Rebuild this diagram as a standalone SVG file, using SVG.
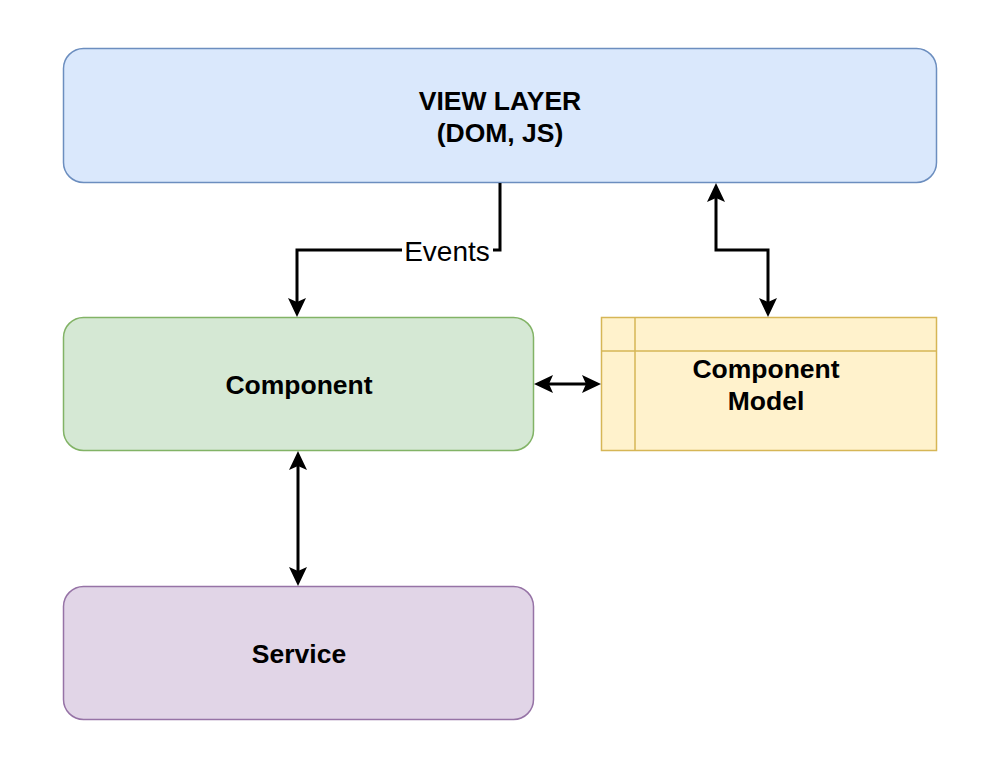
<svg xmlns="http://www.w3.org/2000/svg" width="1000" height="770" viewBox="0 0 1000 770">
<style>
.lbl{font-family:"Liberation Sans",Arial,sans-serif;font-size:26.5px;font-weight:bold;fill:#000;text-anchor:middle}
.evt{font-family:"Liberation Sans",Arial,sans-serif;font-size:28px;fill:#000;text-anchor:middle}
.conn{fill:none;stroke:#000;stroke-width:3}
</style>
<defs>
<marker id="arr" markerUnits="userSpaceOnUse" markerWidth="22" markerHeight="20" refX="15" refY="9" orient="auto-start-reverse">
<path d="M0,0 L19,9 L0,18 L4,9 Z" fill="#000"/>
</marker>
</defs>
<rect width="1000" height="770" fill="#fff"/>
<g id="view-layer">
<rect x="63.5" y="48.5" width="873" height="134" rx="20" fill="#dae8fc" stroke="#6c8ebf" stroke-width="1.5"/>
<text class="lbl" x="500" y="110">VIEW LAYER</text>
<text class="lbl" x="500" y="142">(DOM, JS)</text>
</g>
<g id="component">
<rect x="63.5" y="317.5" width="470" height="133" rx="20" fill="#d5e8d4" stroke="#82b366" stroke-width="1.5"/>
<text class="lbl" x="299" y="394">Component</text>
</g>
<g id="component-model">
<rect x="601.5" y="317.5" width="335" height="133" fill="#fff2cc" stroke="#d6b656" stroke-width="1.5"/>
<line x1="601.5" y1="351" x2="936.5" y2="351" stroke="#d6b656" stroke-width="1.5"/>
<line x1="635" y1="317.5" x2="635" y2="450.5" stroke="#d6b656" stroke-width="1.5"/>
<text class="lbl" x="766" y="378">Component</text>
<text class="lbl" x="766" y="410">Model</text>
</g>
<g id="service">
<rect x="63.5" y="586.5" width="470" height="133" rx="20" fill="#e1d5e7" stroke="#9673a6" stroke-width="1.5"/>
<text class="lbl" x="299" y="663">Service</text>
</g>
<g id="connectors">
<path class="conn" d="M500,183 V250 H297 V313" marker-end="url(#arr)"/>
<rect x="402" y="236" width="91" height="29" fill="#fff"/>
<text class="evt" x="447" y="261">Events</text>
<path class="conn" d="M716,187 V250 H768 V313" marker-start="url(#arr)" marker-end="url(#arr)"/>
<path class="conn" d="M538,384 H597" marker-start="url(#arr)" marker-end="url(#arr)"/>
<path class="conn" d="M298,455 V582" marker-start="url(#arr)" marker-end="url(#arr)"/>
</g>
</svg>
